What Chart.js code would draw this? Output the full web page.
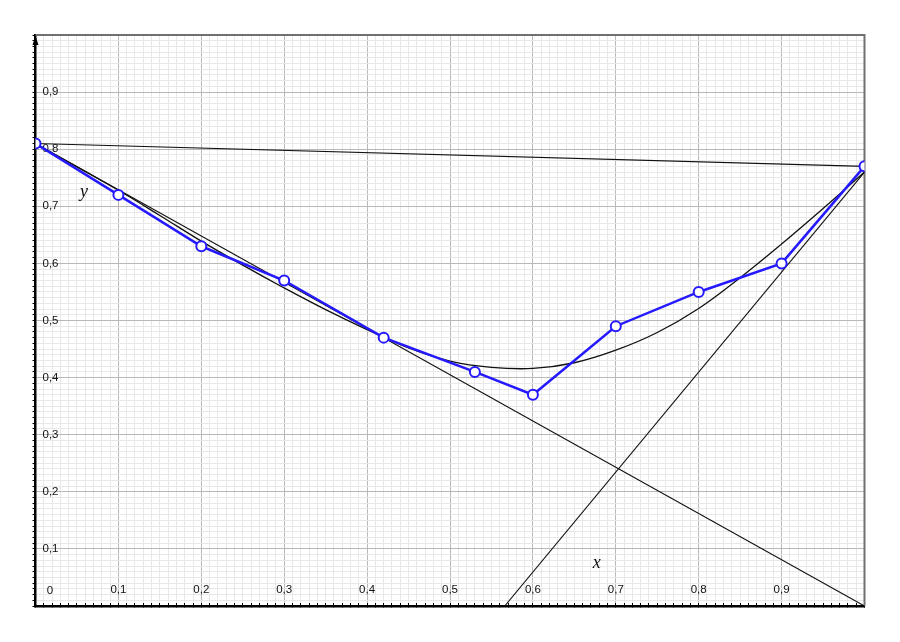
<!DOCTYPE html>
<html>
<head>
<meta charset="utf-8">
<script src="https://cdn.jsdelivr.net/npm/chart.js@4.4.1/dist/chart.umd.min.js"></script>
<style>
  html, body { margin: 0; padding: 0; background: #fff; }
  #wrap { width: 900px; height: 642px; }
</style>
</head>
<body>
<div id="wrap"><canvas id="chart" width="900" height="642"></canvas></div>
<script>
// measured points (blue polyline)
const pointX = [0, 0.1, 0.2, 0.3, 0.42, 0.53, 0.6, 0.7, 0.8, 0.9, 1.0];
const pointY = [0.81, 0.72, 0.63, 0.57, 0.47, 0.41, 0.37, 0.49, 0.55, 0.6, 0.77];

// smooth black curve
const curveX = [0, 0.05, 0.1, 0.15, 0.2, 0.25, 0.3, 0.35, 0.4, 0.45, 0.5,
  0.55, 0.6, 0.65, 0.7, 0.75, 0.8, 0.85, 0.9, 0.95, 1.0];
const curveY = [0.81, 0.769, 0.728, 0.684, 0.639, 0.597, 0.557, 0.519, 0.484, 0.452, 0.429,
  0.418, 0.416, 0.426, 0.448, 0.479, 0.521, 0.575, 0.634, 0.696, 0.76];

// straight lines
const tangentLeftX = [0, 1];
const tangentLeftY = [0.81, 0];
const tangentRightX = [0.566, 1];
const tangentRightY = [0, 0.76];
const chordX = [0, 1];
const chordY = [0.81, 0.77];

// tick labels
const tickValues = [0.1, 0.2, 0.3, 0.4, 0.5, 0.6, 0.7, 0.8, 0.9];
const tickLabels = ["0,1", "0,2", "0,3", "0,4", "0,5", "0,6", "0,7", "0,8", "0,9"];
const originLabel = "0";
const axisNames = ["x", "y"];

function toXY(xs, ys) {
  return xs.map((x, i) => ({ x: x, y: ys[i] }));
}

function tickLabel(value) {
  const idx = tickValues.findIndex((t) => Math.abs(t - value) < 1e-6);
  return idx >= 0 ? tickLabels[idx] : "";
}

function gridColor(ctx) {
  if (!ctx.tick) return "#e6e6e6";
  const v = Math.round(ctx.tick.value * 100);
  return v % 10 === 0 ? "#b8b8b8" : "#e8e8e8";
}

const tickFont = { family: "Liberation Sans", size: 11.5 };

// arrow on y axis, frame, axis letters, origin label
const decorations = {
  id: "decorations",
  beforeDatasetsDraw(chart) {
    const { ctx, chartArea } = chart;
    ctx.save();
    ctx.strokeStyle = "#707070";
    ctx.lineWidth = 2;
    ctx.beginPath();
    ctx.moveTo(chartArea.left, chartArea.top);
    ctx.lineTo(chartArea.right, chartArea.top);
    ctx.lineTo(chartArea.right, chartArea.bottom);
    ctx.stroke();
    ctx.restore();
  },
  afterDraw(chart) {
    const { ctx, chartArea, scales } = chart;
    ctx.save();
    // arrow
    const ax = chartArea.left;
    ctx.fillStyle = "#000";
    ctx.beginPath();
    ctx.moveTo(ax, chartArea.top + 1);
    ctx.lineTo(ax - 3, chartArea.top + 10);
    ctx.lineTo(ax + 3, chartArea.top + 10);
    ctx.closePath();
    ctx.fill();
    // origin label
    ctx.font = "11.5px 'Liberation Sans'";
    ctx.fillStyle = "#111";
    ctx.textAlign = "center";
    ctx.textBaseline = "middle";
    ctx.fillText(originLabel, scales.x.getPixelForValue(0) + 14.5, chartArea.bottom - 15.5);
    // axis letters
    ctx.font = "italic 18px 'Liberation Serif'";
    ctx.textBaseline = "alphabetic";
    ctx.fillStyle = "#111";
    ctx.fillText(axisNames[0], scales.x.getPixelForValue(0.677), scales.y.getPixelForValue(0.067));
    ctx.fillText(axisNames[1], scales.x.getPixelForValue(0.0585), scales.y.getPixelForValue(0.716));
    ctx.restore();
  },
};

new Chart(document.getElementById("chart"), {
  type: "line",
  data: {
    datasets: [
      {
        data: toXY(pointX, pointY),
        borderColor: "#2419ff",
        borderWidth: 2.5,
        pointRadius: 5,
        pointBorderWidth: 2,
        pointBackgroundColor: "#ffffff",
        pointBorderColor: "#2419ff",
        tension: 0,
      },
      {
        data: toXY(curveX, curveY),
        borderColor: "#111",
        borderWidth: 1.3,
        pointRadius: 0,
        tension: 0.4,
      },
      {
        data: toXY(tangentLeftX, tangentLeftY),
        borderColor: "#111",
        borderWidth: 1.1,
        pointRadius: 0,
      },
      {
        data: toXY(tangentRightX, tangentRightY),
        borderColor: "#111",
        borderWidth: 1.1,
        pointRadius: 0,
      },
      {
        data: toXY(chordX, chordY),
        borderColor: "#111",
        borderWidth: 1.1,
        pointRadius: 0,
      },
    ],
  },
  options: {
    responsive: false,
    animation: false,
    events: [],
    layout: { padding: { left: 35.5, right: 35.5, top: 35, bottom: 36 } },
    plugins: { legend: { display: false }, tooltip: { enabled: false } },
    scales: {
      x: {
        type: "linear",
        min: 0,
        max: 1,
        afterFit: (scale) => { scale.height = 0; },
        grid: { color: gridColor, tickColor: "#000", tickLength: -3, lineWidth: 1 },
        border: { color: "#000", width: 2.5 },
        ticks: {
          stepSize: 0.01,
          autoSkip: false,
          maxRotation: 0,
          mirror: true,
          padding: 9,
          color: "#111",
          font: tickFont,
          callback: (v) => tickLabel(v),
        },
      },
      y: {
        type: "linear",
        min: 0,
        max: 1,
        afterFit: (scale) => { scale.width = 0; },
        grid: { color: gridColor, tickColor: "#000", tickLength: 3, lineWidth: 1 },
        border: { color: "#000", width: 2.5 },
        ticks: {
          stepSize: 0.01,
          autoSkip: false,
          mirror: true,
          padding: 7,
          color: "#111",
          font: tickFont,
          callback: (v) => tickLabel(v),
        },
      },
    },
  },
  plugins: [decorations],
});
</script>
</body>
</html>
